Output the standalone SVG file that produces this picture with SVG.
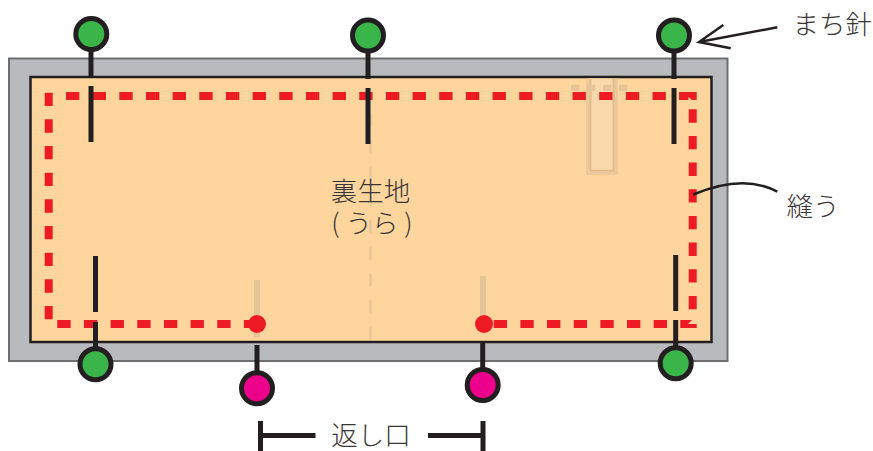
<svg xmlns="http://www.w3.org/2000/svg" width="873" height="451" viewBox="0 0 873 451">
<style>
.t{font-family:"Noto Sans CJK JP","Liberation Sans",sans-serif;font-size:26.5px;font-weight:300;fill:#3a3637}
.pin{stroke:#231f20;stroke-width:5}
.g{fill:#39b54a}.m{fill:#ec008c}
.s{stroke:#231f20;stroke-width:5;fill:none}
.st{stroke:#ed1c24;stroke-width:8;stroke-dasharray:13.33 13.33;fill:none}
.ln{stroke:#231f20;stroke-width:2.5;fill:none}
.fade{stroke:#e6c49a;fill:none}
</style>
<rect id="base" x="9" y="58.5" width="718.5" height="302.5" fill="#b9babd" stroke="#6d6e71" stroke-width="2"/>
<rect id="cloth" x="30.5" y="77" width="681" height="265" fill="#fdd59d" stroke="#231f20" stroke-width="2.5"/>
<g id="faded">
<line class="fade" x1="370.5" y1="113.3" x2="370.5" y2="341" stroke-width="2" stroke-dasharray="13.33 13.33"/>
<path d="M588.700 78.500V172.500H615.300V78.500" fill="#f9d8ab" stroke="#ecc99b" stroke-width="5"/>
<path d="M590.500 78.500V170.500H613.500V78.500" fill="none" stroke="#dfb988" stroke-width="1.500"/>
<line class="fade" x1="571" y1="87.800" x2="628" y2="87.800" stroke-width="5.700" stroke-dasharray="8.300 7.700"/>
<line class="fade" x1="257" y1="280" x2="257" y2="337" stroke-width="6"/>
<line class="fade" x1="483" y1="276" x2="483" y2="326" stroke-width="6"/>
</g>
<g id="stitches">
<line class="st" x1="66" y1="96" x2="680" y2="96"/>
<line class="st" x1="692.7" y1="109.3" x2="692.7" y2="320"/>
<polygon points="679.3,92 696.7,92 696.7,100 692,100 688.5,97 688.5,100 679.3,100" fill="#ed1c24"/>
<line class="st" x1="48.7" y1="92.7" x2="48.7" y2="320"/>
<line class="st" x1="57.3" y1="324" x2="250" y2="324"/>
<line class="st" x1="493.7" y1="324" x2="680" y2="324"/>
<polygon points="680.3,320 692,320 688,324 696.7,324 696.7,328 680.3,328" fill="#ed1c24"/>
<circle cx="257" cy="324" r="9" fill="#ed1c24"/>
<circle cx="484" cy="324" r="9" fill="#ed1c24"/>
</g>
<g id="pin-top-left"><line class="s" x1="91" y1="50" x2="91" y2="77"/><line class="s" x1="91" y1="86" x2="91" y2="142"/><circle class="pin g" cx="91.3" cy="34" r="15.5"/></g>
<g id="pin-top-mid"><line class="s" x1="368" y1="51" x2="368" y2="79"/><line class="s" x1="368" y1="88" x2="368" y2="144"/><circle class="pin g" cx="368" cy="35.5" r="15.5"/></g>
<g id="pin-top-right"><line class="s" x1="674" y1="51" x2="674" y2="79"/><line class="s" x1="674" y1="88" x2="674" y2="144"/><circle class="pin g" cx="674" cy="35.5" r="15.5"/></g>
<g id="pin-bottom-left"><line class="s" x1="95.5" y1="256" x2="95.5" y2="312"/><line class="s" x1="95.5" y1="322" x2="95.5" y2="350"/><circle class="pin g" cx="95.5" cy="364.3" r="15.5"/></g>
<g id="pin-bottom-right"><line class="s" x1="675.7" y1="255" x2="675.7" y2="311"/><line class="s" x1="675.7" y1="320" x2="675.7" y2="350"/><circle class="pin g" cx="675.7" cy="363.3" r="15.5"/></g>
<g id="pin-open-left"><line class="s" x1="257" y1="345" x2="257" y2="374"/><circle class="pin m" cx="257" cy="388.3" r="15.5"/></g>
<g id="pin-open-right"><line class="s" x1="482.7" y1="342" x2="482.7" y2="371"/><circle class="pin m" cx="482.7" cy="385" r="15.5"/></g>
<g id="connectors">
<path class="ln" d="M777.3 27.3L699 42M723.3 25L699 42L730.7 48.3"/>
<path class="ln" d="M693.3 194.5C718 184 750 177 777.3 191.7"/>
<path class="s" d="M260.5 421V451M260.5 435.5H315.500M483 421V451M483 435.500H428"/>
</g>
<g id="labels">
<text class="t" x="792.500" y="34">まち針</text>
<text class="t" x="786.500" y="216">縫う</text>
<text class="t" x="370.500" y="201" text-anchor="middle">裏生地</text>
<text class="t" x="372" y="233" text-anchor="middle" xml:space="preserve">( うら )</text>
<text class="t" x="371" y="445" text-anchor="middle">返し口</text>
</g>
</svg>
